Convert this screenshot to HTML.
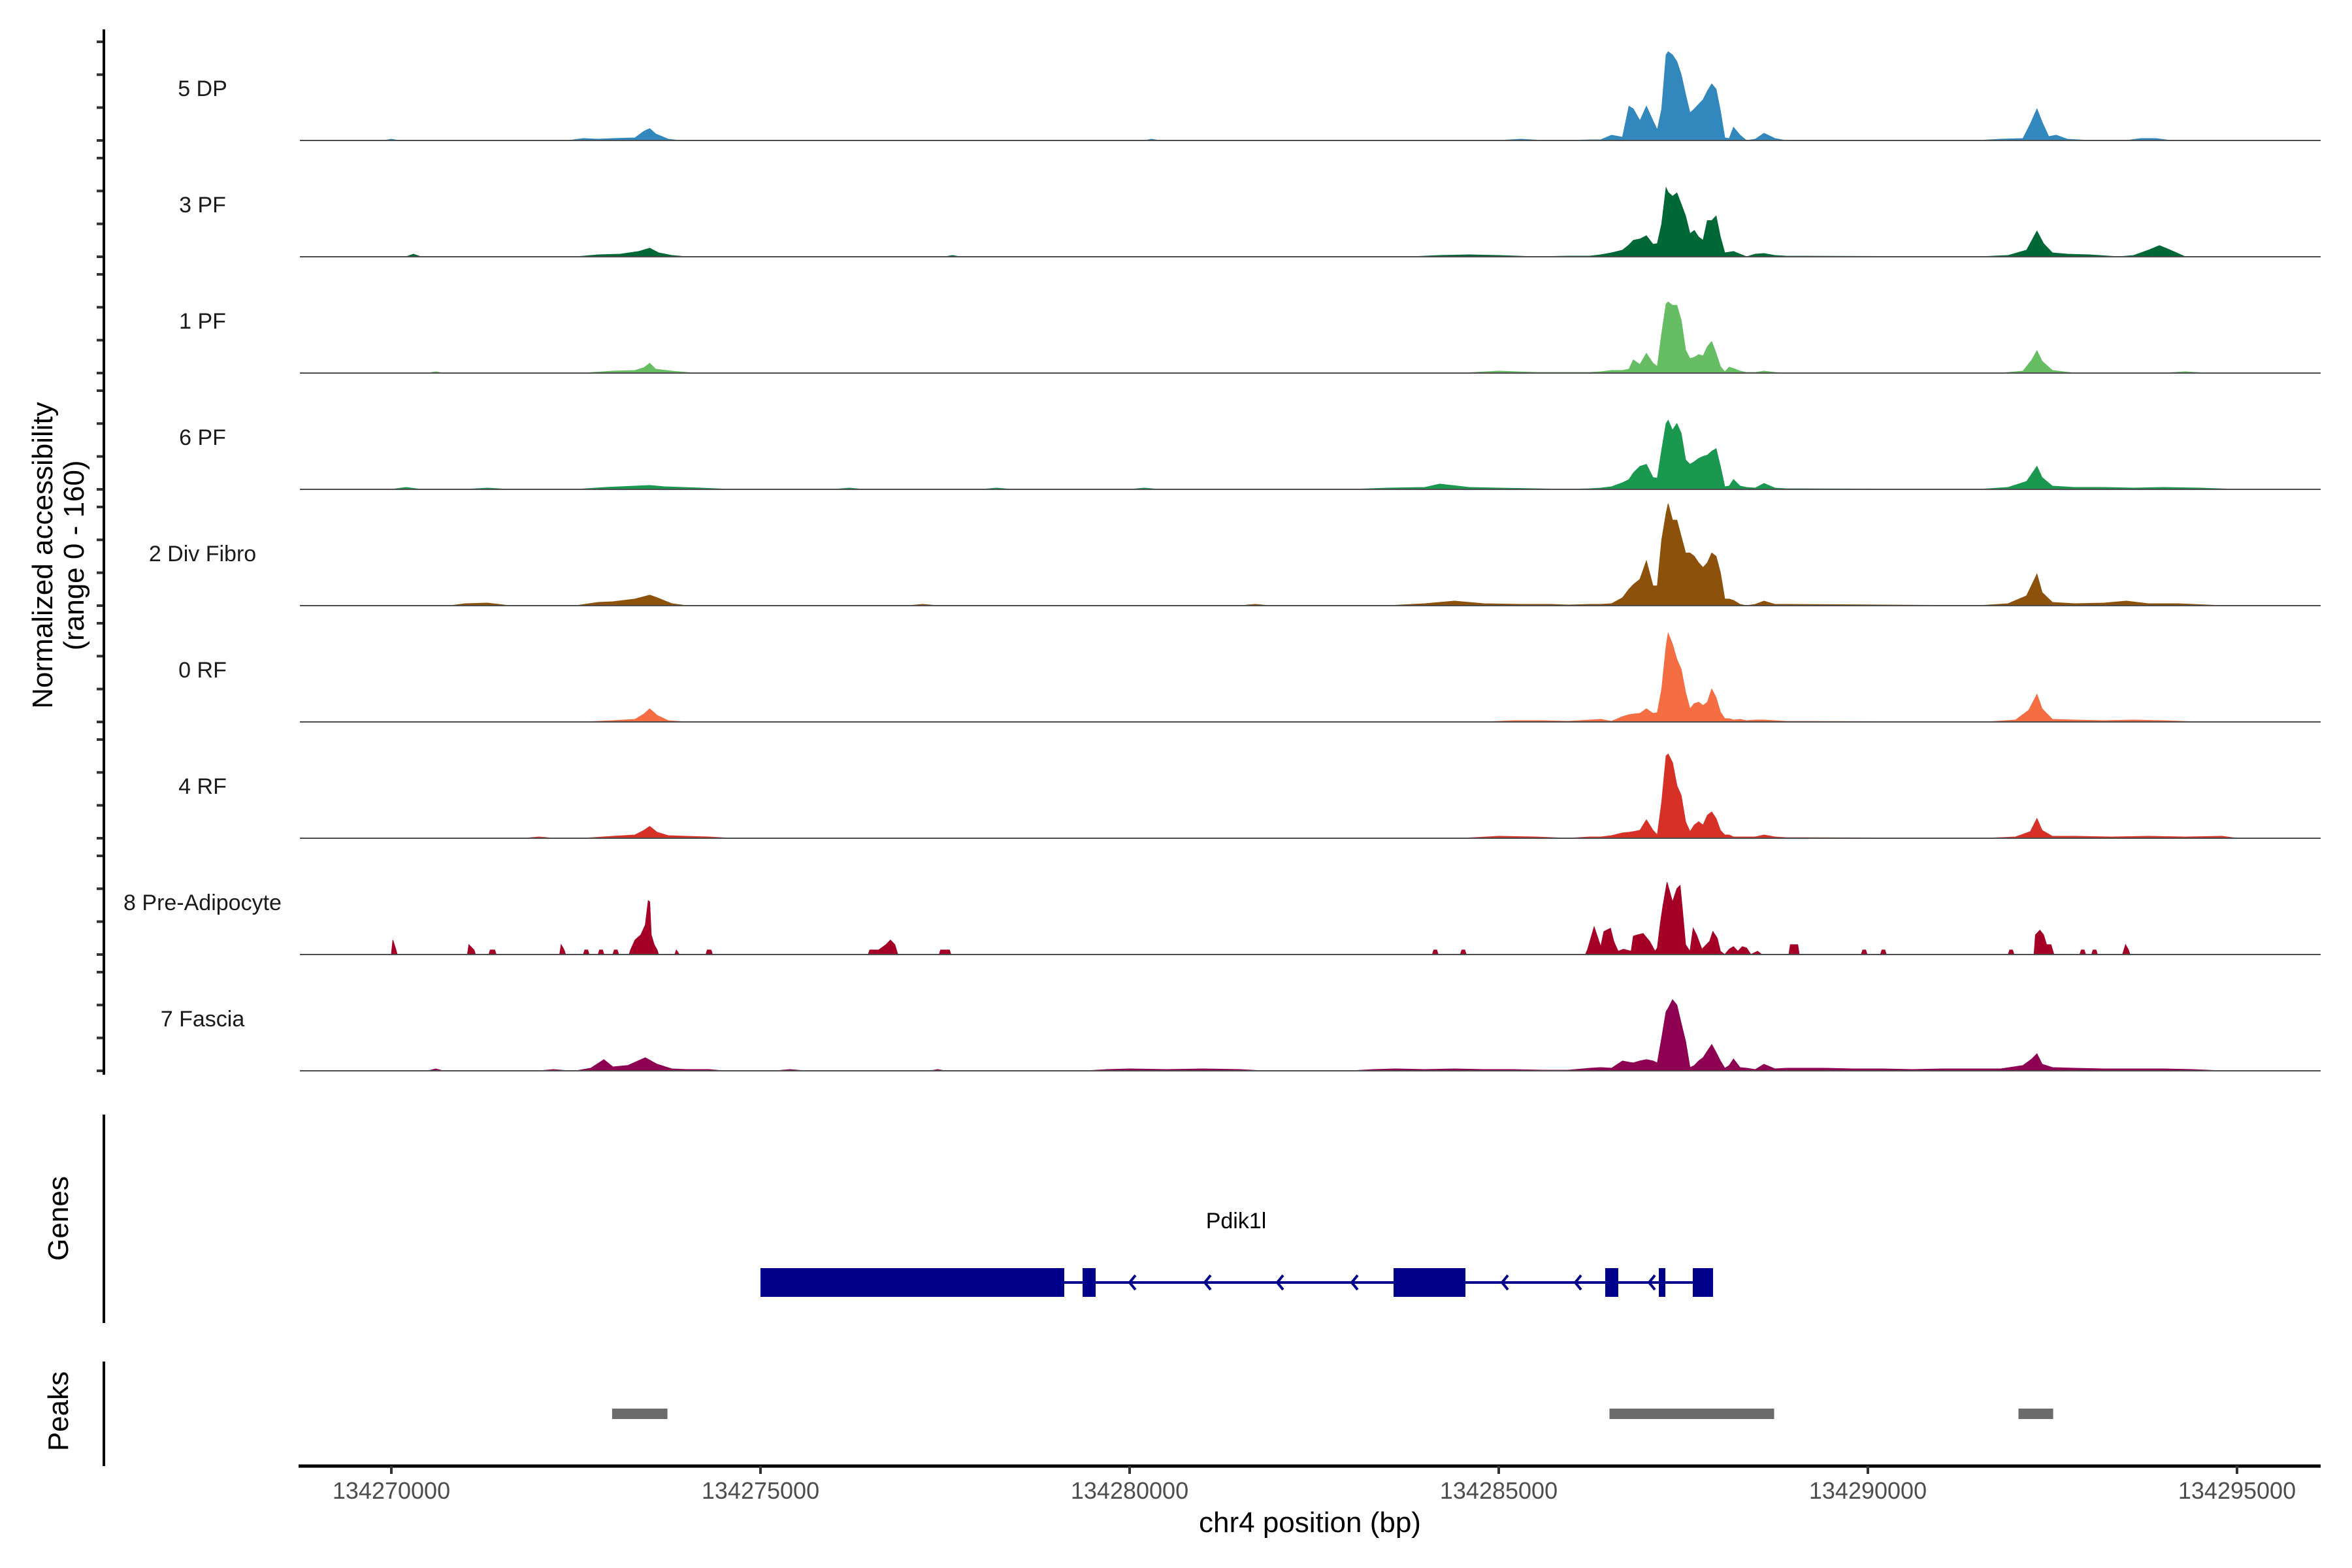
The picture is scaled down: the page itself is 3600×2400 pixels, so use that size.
<!DOCTYPE html>
<html><head><meta charset="utf-8">
<style>
html,body{margin:0;padding:0;background:#fff;}
svg{display:block;font-family:"Liberation Sans",sans-serif;}
</style></head>
<body>
<svg id="chart" xmlns="http://www.w3.org/2000/svg" width="3600" height="2400" viewBox="0 0 3600 2400">
<rect x="0" y="0" width="3600" height="2400" fill="#fff"/>
<g id="tracks"></g>
<g id="axes"></g>
<text x="0" y="0" transform="translate(80,850) rotate(-90)" text-anchor="middle" font-size="44" fill="#000">Normalized accessibility</text>
<text x="0" y="0" transform="translate(128,850) rotate(-90)" text-anchor="middle" font-size="44" fill="#000">(range 0 - 160)</text>
<text x="0" y="0" transform="translate(104,1865) rotate(-90)" text-anchor="middle" font-size="44" fill="#000">Genes</text>
<text x="0" y="0" transform="translate(104,2160) rotate(-90)" text-anchor="middle" font-size="44" fill="#000">Peaks</text>
<text x="1892" y="1880" text-anchor="middle" font-size="34" fill="#000">Pdik1l</text>
<text x="2005" y="2345" text-anchor="middle" font-size="44" fill="#000">chr4 position (bp)</text>
</svg>
<script>
const trackNames = ["5 DP","3 PF","1 PF","6 PF","2 Div Fibro","0 RF","4 RF","8 Pre-Adipocyte","7 Fascia"];
const trackColors = ["#3288bd","#006837","#66bd63","#1a9850","#8c510a","#f46d43","#d73027","#a50026","#8e0152"];
const mainKb = [285.938,286.233,286.381,286.528,286.676,286.764,286.823,286.912,287.000,287.089,287.148,287.207,287.266,287.295,287.354,287.413,287.472,287.531,287.590,287.649,287.708,287.767,287.826,287.885,287.944,288.003,288.062,288.121,288.180,288.269,288.357,288.475,288.593,288.741,288.888];
const dp5Main = [0,1,1,8,5,52,48,30,52,30,16,48,130,135,130,120,100,70,42,48,55,62,75,86,78,45,4,3,20,8,0,2,11,3,0];
const pf3Main = [1,1,3,6,10,18,25,27,32,19,20,50,105,98,92,97,80,62,35,40,30,25,55,55,62,30,6,7,8,4,0,4,5,2,1];
const pf1Main = [1,1,2,4,4,6,20,13,30,15,10,60,105,108,103,103,80,35,22,24,28,26,40,48,30,10,2,9,7,3,1,1,3,1,0];
const pf6Main = [0,1,2,4,10,15,25,35,38,18,17,60,100,105,90,100,85,45,38,42,47,50,52,58,62,35,4,5,15,5,3,2,9,2,1];
const div2Main = [1,2,2,3,12,25,32,40,68,30,30,100,140,155,130,130,105,80,80,75,65,58,65,80,75,50,10,10,8,2,0,2,7,2,2];
const rf0Main = [1,3,4,1,8,11,12,13,20,13,14,50,115,135,118,95,80,45,20,28,30,25,30,50,37,15,5,5,3,4,2,3,3,2,1];
const rf4Main = [0,2,2,4,8,9,10,12,28,12,5,55,125,128,115,80,65,25,10,20,25,20,35,40,30,12,5,5,2,2,2,2,5,2,1];
const fas7Main = [1,4,5,4,15,13,12,15,17,15,12,50,90,95,108,100,72,45,5,8,15,20,30,40,28,15,4,8,18,5,4,2,10,3,4];
const pre8MainKb = [286.174,286.204,286.292,286.381,286.425,286.513,286.558,286.617,286.690,286.794,286.823,286.882,286.956,287.044,287.118,287.148,287.192,287.221,287.280,287.354,287.413,287.457,287.487,287.531,287.590,287.634,287.679,287.752,287.856,287.900,287.959,288.003,288.062,288.121,288.180,288.239,288.298,288.357,288.416,288.505,288.564];
const pre8Main = [0,8,42,12,35,40,20,5,8,5,28,30,32,20,5,10,50,72,110,80,100,105,70,15,5,40,30,8,20,35,25,5,0,8,12,5,12,10,0,5,0];

const dp5ExtraKb = [269.9,270.0,270.1, 272.4,272.6,272.8,273.0,273.3,273.42,273.5,273.58,273.75,273.9, 280.2,280.3,280.4, 285.0,285.3,285.6, 291.5,291.8,292.1,292.2,292.29,292.36,292.45,292.55,292.7,293.0, 293.5,293.7,293.9,294.1];
const dp5ExtraVal = [0,2,0, 0,3,2,3,4,14,18,10,2,0, 0,2,0, 0,2,0, 0,2,3,25,48,28,6,8,2,0, 0,3,3,0];
const pf3ExtraKb = [270.2,270.3,270.4, 272.5,272.8,273.1,273.35,273.5,273.62,273.8,274.0, 277.5,277.6,277.7, 283.8,284.2,284.6,285.0,285.5, 291.5,291.9,292.15,292.29,292.38,292.5,292.7,293.0,293.4, 293.6,293.8,293.95,294.1,294.3];
const pf3ExtraVal = [0,4,0, 0,3,4,8,13,6,2,0, 0,2,0, 0,2,3,2,0, 0,2,10,39,20,6,4,3,0, 2,10,17,10,0];
const pf1ExtraKb = [270.5,270.6,270.7, 272.6,273.0,273.3,273.42,273.5,273.58,273.8,274.1, 284.5,285.0,285.5, 291.8,292.1,292.22,292.29,292.36,292.5,292.8, 294.0,294.3,294.6];
const pf1ExtraVal = [0,2,0, 0,3,4,8,15,6,3,0, 0,3,1, 0,3,20,34,18,4,0, 0,2,0];
const pf6ExtraKb = [270.0,270.2,270.4, 271.0,271.3,271.6, 272.5,272.9,273.3,273.5,273.7,274.2,274.6, 276.0,276.2,276.4, 278.0,278.2,278.4, 280.0,280.2,280.4, 283.0,283.5,284.0,284.2,284.6,285.0,285.5, 291.5,291.9,292.15,292.29,292.36,292.5,292.8,293.2,293.6,294.0,294.5,295.0];
const pf6ExtraVal = [0,3,0, 0,2,0, 0,3,5,6,4,2,0, 0,2,0, 0,2,0, 0,2,0, 0,2,3,8,3,2,1, 0,3,12,35,18,5,3,3,2,3,2,0];
const div2ExtraKb = [270.8,271.0,271.3,271.6, 272.5,272.8,273.0,273.3,273.5,273.6,273.8,274.0, 277.0,277.2,277.4, 281.5,281.7,281.9, 283.5,284.0,284.4,284.8,285.3,285.7, 291.5,291.9,292.15,292.29,292.36,292.5,292.8,293.2,293.5,293.8,294.2,294.8];
const div2ExtraVal = [0,3,4,0, 0,5,6,10,16,12,3,0, 0,2,0, 0,2,0, 0,3,7,3,2,2, 0,3,15,48,20,5,3,4,7,3,3,0];
const rf0ExtraKb = [272.6,273.0,273.3,273.42,273.5,273.6,273.75,274.0, 284.8,285.2,285.6, 291.6,292.0,292.18,292.29,292.36,292.5,292.8,293.2,293.6,294.0,294.5];
const rf0ExtraVal = [0,2,4,12,20,10,2,0, 0,2,2, 0,3,18,42,20,4,3,2,3,2,0];
const rf4ExtraKb = [271.8,272.0,272.2, 272.6,273.0,273.3,273.42,273.5,273.6,273.75,274.0,274.3,274.6, 284.5,285.0,285.5, 291.6,292.0,292.2,292.29,292.36,292.5,292.8,293.3,293.8,294.3,294.8,295.0];
const rf4ExtraVal = [0,2,0, 0,3,5,12,18,9,4,3,2,0, 0,3,2, 0,2,10,30,12,3,3,2,3,2,3,0];
const pre8ExtraKb = [270.00,270.02,270.06,270.08, 271.03,271.05,271.12,271.14, 271.32,271.34,271.40,271.42, 272.28,272.30,272.34,272.36, 272.60,272.62,272.66,272.68, 272.80,272.82,272.86,272.88, 273.00,273.02,273.06,273.08, 273.22,273.24,273.30,273.38,273.44,273.48,273.50,273.52,273.56,273.60,273.62, 273.84,273.86,273.90, 274.26,274.28,274.33,274.35, 276.46,276.48,276.60,276.70,276.76,276.82,276.86, 277.42,277.44,277.56,277.58, 284.10,284.12,284.16,284.18, 284.48,284.50,284.54,284.56, 288.93,288.95,289.05,289.07, 289.91,289.93,289.97,289.99, 290.17,290.19,290.23,290.25, 291.90,291.92,291.96,291.98, 292.25,292.27,292.33,292.38,292.42,292.48,292.52, 292.87,292.89,292.93,292.95, 293.03,293.05,293.09,293.11, 293.45,293.49,293.53,293.55];
const pre8ExtraVal = [0,22,8,0, 0,15,7,0, 0,7,7,0, 0,15,7,0, 0,7,7,0, 0,7,7,0, 0,7,7,0, 0,7,22,30,45,82,80,30,15,7,0, 0,7,0, 0,7,7,0, 0,7,7,15,22,15,0, 0,7,7,0, 0,7,7,0, 0,7,7,0, 0,15,15,0, 0,7,7,0, 0,7,7,0, 0,7,7,0, 0,30,37,30,15,15,0, 0,7,7,0, 0,7,7,0, 0,15,7,0];
const fas7ExtraKb = [270.5,270.6,270.7, 272.0,272.2,272.4, 272.5,272.7,272.88,273.0,273.2,273.44,273.6,273.8,274.0,274.3,274.5, 275.2,275.4,275.6, 277.3,277.4,277.5, 279.4,279.7,280.0,280.5,281.0,281.5,281.8, 283.0,283.3,283.6,284.0,284.4,284.8,285.2,285.6, 289.0,289.4,289.8,290.2,290.6,291.0,291.4,291.8,292.1,292.22,292.29,292.36,292.5,292.8,293.2,293.6,294.0,294.4,294.8];
const fas7ExtraVal = [0,3,0, 0,2,0, 0,4,17,6,8,20,10,3,2,2,0, 0,2,0, 0,2,0, 0,2,3,2,3,2,0, 0,2,3,2,3,2,2,1, 4,4,3,3,2,3,3,3,8,18,26,10,5,4,3,3,3,2,0];

const exonStartKb = [275.000,279.363,283.575,286.442,287.168,287.628];
const exonEndKb = [279.115,279.540,284.549,286.619,287.257,287.903];
const arrowKb = [280.035,281.053,282.035,283.044,285.080,286.071,287.071];
const peakStartKb = [272.99,286.50,292.04];
const peakEndKb = [273.74,288.73,292.51];
const xTickBp = [134270000,134275000,134280000,134285000,134290000,134295000];
const yTickUnits = [0,50,100,150];

const NS = "http://www.w3.org/2000/svg";
const X0 = 599, PXPERKB = 113, BASE0 = 215, TRACKSTEP = 178, PXPERUNIT = 1.007;
function xs(kb){ return X0 + (kb - 270) * PXPERKB; }
function baseY(i){ return BASE0 + TRACKSTEP * i; }
function ys(i, v){ return baseY(i) - v * PXPERUNIT; }
function mk(tag, attrs, parent){ const e = document.createElementNS(NS, tag); for (const k in attrs) e.setAttribute(k, attrs[k]); parent.appendChild(e); return e; }

const trackSeries = [
  [mainKb, dp5Main, dp5ExtraKb, dp5ExtraVal],
  [mainKb, pf3Main, pf3ExtraKb, pf3ExtraVal],
  [mainKb, pf1Main, pf1ExtraKb, pf1ExtraVal],
  [mainKb, pf6Main, pf6ExtraKb, pf6ExtraVal],
  [mainKb, div2Main, div2ExtraKb, div2ExtraVal],
  [mainKb, rf0Main, rf0ExtraKb, rf0ExtraVal],
  [mainKb, rf4Main, rf4ExtraKb, rf4ExtraVal],
  [pre8MainKb, pre8Main, pre8ExtraKb, pre8ExtraVal],
  [mainKb, fas7Main, fas7ExtraKb, fas7ExtraVal]
];

const tracksG = document.getElementById('tracks');
const axesG = document.getElementById('axes');

trackSeries.forEach(function(s, i){
  const pts = [];
  for (let j = 0; j < s[0].length; j++) pts.push([s[0][j], s[1][j]]);
  for (let j = 0; j < s[2].length; j++) pts.push([s[2][j], s[3][j]]);
  pts.sort(function(a,b){ return a[0]-b[0]; });
  const b = baseY(i);
  let d = 'M' + xs(pts[0][0]).toFixed(1) + ',' + b;
  pts.forEach(function(p){ d += 'L' + xs(p[0]).toFixed(1) + ',' + ys(i, p[1]).toFixed(1); });
  d += 'L' + xs(pts[pts.length-1][0]).toFixed(1) + ',' + b + 'Z';
  const area = mk('path', {d: d, fill: trackColors[i], stroke: trackColors[i], 'stroke-width': 1}, tracksG);
  
  
  const bl = mk('line', {x1: 459, x2: 3552, y1: b, y2: b, stroke: '#4d4d4d', 'stroke-width': 2}, tracksG);
  
  
  const lab = mk('text', {x: 310, y: b - 68, 'text-anchor': 'middle', 'font-size': 34, fill: '#1a1a1a'}, tracksG);
  lab.textContent = trackNames[i];
  
  
  yTickUnits.forEach(function(u){
    const t = mk('line', {x1: 148, x2: 158, y1: ys(i,u), y2: ys(i,u), stroke: '#333', 'stroke-width': 4}, axesG);
    
    
  });
});

// axis lines
const yAxis = mk('line', {x1: 159, x2: 159, y1: 45, y2: baseY(8) + 6, stroke: '#000', 'stroke-width': 4}, axesG);


const gAxis = mk('line', {x1: 159, x2: 159, y1: 1706, y2: 2025, stroke: '#000', 'stroke-width': 4}, axesG);


const pAxis = mk('line', {x1: 159, x2: 159, y1: 2084, y2: 2244, stroke: '#000', 'stroke-width': 4}, axesG);


const xAxis = mk('line', {x1: 457, x2: 3552, y1: 2244, y2: 2244, stroke: '#000', 'stroke-width': 5}, axesG);


xTickBp.forEach(function(bp){
  const x = xs((bp - 134000000) / 1000);
  const t = mk('line', {x1: x, x2: x, y1: 2244, y2: 2256, stroke: '#333', 'stroke-width': 4}, axesG);
  
  
  const l = mk('text', {x: x, y: 2294, 'text-anchor': 'middle', 'font-size': 36, fill: '#4d4d4d'}, axesG);
  l.textContent = String(bp);
  
  
});

// gene model
const geneG = mk('g', {}, tracksG);


const gl = mk('line', {x1: xs(exonStartKb[0]), x2: xs(exonEndKb[exonEndKb.length-1]), y1: 1963, y2: 1963, stroke: '#00008b', 'stroke-width': 4}, geneG);


exonStartKb.forEach(function(s, k){
  const r = mk('rect', {x: xs(s), y: 1941, width: xs(exonEndKb[k]) - xs(s), height: 44, fill: '#00008b'}, geneG);
  
  
});
arrowKb.forEach(function(a){
  const x = xs(a);
  const p = mk('path', {d: 'M' + (x+5) + ',1952L' + (x-4) + ',1963L' + (x+5) + ',1974', fill: 'none', stroke: '#00008b', 'stroke-width': 4}, geneG);
  
  
});
// peaks
peakStartKb.forEach(function(s, k){
  const r = mk('rect', {x: xs(s), y: 2156, width: xs(peakEndKb[k]) - xs(s), height: 16, fill: '#6b6b6b'}, tracksG);
  
  
});
</script>
</body></html>
